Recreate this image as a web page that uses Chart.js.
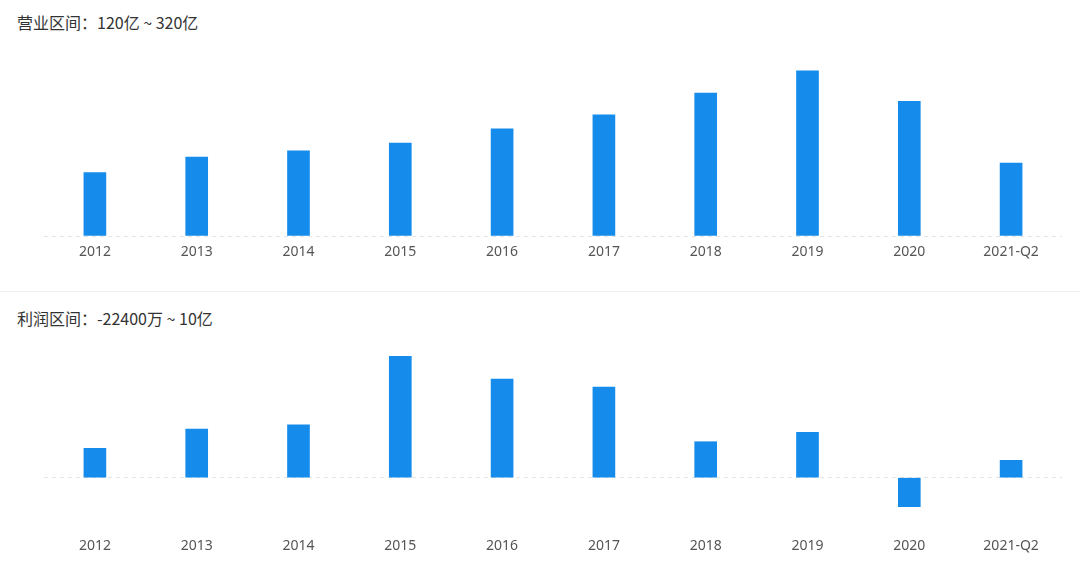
<!DOCTYPE html>
<html>
<head>
<meta charset="utf-8">
<script src="https://cdn.jsdelivr.net/npm/chart.js@4"></script>
<style>
body { margin: 0; background: #fff; width: 1080px; height: 582px; overflow: hidden; position: relative; font-family: "Noto Sans CJK SC", "Noto Sans", sans-serif; }
.title { position: absolute; left: 17px; font-size: 16px; line-height: 20px; color: #333; }
canvas { position: absolute; left: 0; }
.divider { position: absolute; left: 0; top: 291px; width: 1080px; height: 1px; background: #eef1f5; }
</style>
</head>
<body>
<div class="title" style="top:12px">营业区间：120亿 ~ 320亿</div>
<canvas id="revenue" width="1080" height="290" style="top:0"></canvas>
<div class="divider"></div>
<div class="title" style="top:308px">利润区间：-22400万 ~ 10亿</div>
<canvas id="profit" width="1080" height="292" style="top:290px"></canvas>
<script>
// 年份
const categories = ['2012', '2013', '2014', '2015', '2016', '2017', '2018', '2019', '2020', '2021-Q2'];
// 营业收入 (亿)
const revenue = [123, 153, 165, 180, 208, 235, 277, 320, 261, 141.5];
// 利润 (亿)
const profit = [2.27, 3.76, 4.09, 9.38, 7.62, 7.0, 2.78, 3.51, -2.24, 1.34];

const barColor = '#158cec';

function drawBars(id, values, yMin, yMax, padTop, axisHeight, tickPad) {
    new Chart(document.getElementById(id), {
        type: 'bar',
        data: {
            labels: categories,
            datasets: [{ data: values, backgroundColor: barColor, barThickness: 22 }]
        },
        options: {
            responsive: false,
            animation: false,
            layout: { padding: { left: 44, right: 18, top: padTop, bottom: 0 } },
            plugins: { legend: { display: false }, tooltip: { enabled: false } },
            scales: {
                x: {
                    grid: { display: false },
                    border: { display: false },
                    ticks: { color: '#555', font: { size: 14, family: 'Noto Sans' }, padding: tickPad, maxRotation: 0, autoSkip: false },
                    afterFit: s => { s.height = axisHeight; }
                },
                y: {
                    min: yMin,
                    max: yMax,
                    ticks: { display: false },
                    border: { display: false, dash: [4, 4] },
                    grid: { color: '#e4e4e4', drawTicks: false },
                    afterBuildTicks: s => { s.ticks = [{ value: 0 }]; },
                    afterFit: s => { s.width = 0; }
                }
            }
        }
    });
}

drawBars('revenue', revenue, 0, 380, 40, 54, 0);
drawBars('profit', profit, -3.27, 10.64, 50, 62, 10);
</script>
</body>
</html>
